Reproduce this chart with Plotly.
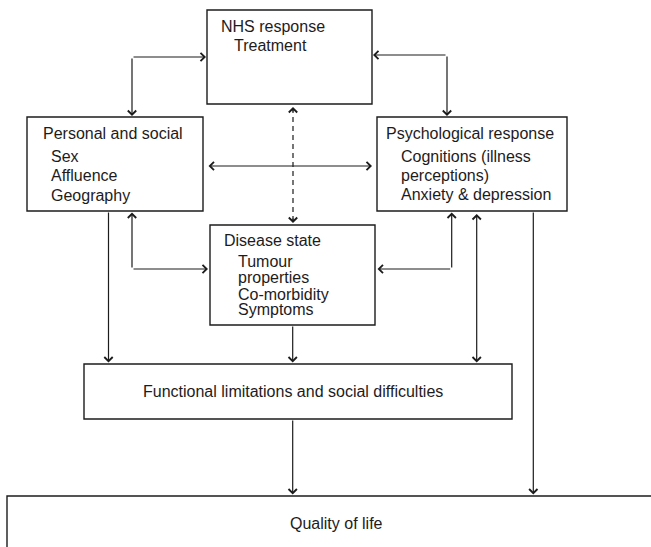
import plotly.graph_objects as go

# ---- Diagram content (text) ----
nhs_title = "NHS response"
nhs_items = ["Treatment"]
personal_title = "Personal and social"
personal_items = ["Sex", "Affluence", "Geography"]
psych_title = "Psychological response"
psych_items = ["Cognitions (illness", "perceptions)", "Anxiety & depression"]
disease_title = "Disease state"
disease_items = ["Tumour", "properties", "Co-morbidity", "Symptoms"]
functional_label = "Functional limitations and social difficulties"
qol_label = "Quality of life"

# ---- Layout geometry (pixel coordinate system of the canvas) ----
W, H = 651, 547
boxes = {
    "nhs": (207, 10, 372, 104),
    "personal": (27, 117, 203, 211),
    "psych": (377, 117, 567, 211),
    "disease": (210, 225, 375, 325),
    "functional": (84, 364, 512, 419),
    "qol": (7, 496, 670, 570),
}
# title pos (x, y), items x, items ys
text_layout = {
    "nhs": ((220, 26), 233, [45]),
    "personal": ((42, 133), 50, [156, 175.5, 195]),
    "psych": ((385, 133), 400, [156, 175.5, 194]),
    "disease": ((222.5, 240), 237, [261.5, 277.7, 294, 309.5]),
}

INK = "#1c1c1c"
FONT = dict(family="Liberation Sans, Arial, Helvetica, sans-serif", size=16, color="#1e1b1c")
LW = 1.2
HEAD = 1.35

fig = go.Figure()

shapes = []
for key, (x0, y0, x1, y1) in boxes.items():
    shapes.append(dict(type="rect", xref="x", yref="y", x0=x0, y0=y0, x1=x1, y1=y1,
                       line=dict(color=INK, width=1.4), fillcolor="rgba(0,0,0,0)", layer="above"))
# dashed NHS <-> disease line
shapes.append(dict(type="line", xref="x", yref="y", x0=293, y0=108, x1=293, y1=222,
                   line=dict(color=INK, width=LW, dash="5px,4px")))

annotations = []


def arrow(tail, tip, both=False):
    annotations.append(dict(
        x=tip[0], y=tip[1], ax=tail[0], ay=tail[1], xref="x", yref="y", axref="x", ayref="y",
        text="", showarrow=True, arrowhead=4, arrowsize=HEAD, arrowwidth=LW, arrowcolor=INK,
        arrowside="end+start" if both else "end", startarrowhead=4, startarrowsize=HEAD,
    ))


# NHS <-> Personal (corner at 132,57)
arrow((132, 57), (206, 57))
arrow((132, 57), (132, 116))
# NHS <-> Psych (corner at 447,55)
arrow((447, 55), (373, 55))
arrow((447, 55), (447, 116))
# Personal <-> Psych
arrow((207, 166), (372, 166), both=True)
# dashed arrowheads
arrow((293, 113), (293, 107))
arrow((293, 217), (293, 223))
# Personal <-> Disease (corner at 132,269)
arrow((132, 269), (132, 212.5))
arrow((132, 269), (208, 269))
# Psych <-> Disease (corner at 451.7,269)
arrow((451.7, 269), (451.7, 212.5))
arrow((451.7, 269), (377.5, 269))
# Psych <-> Functional
arrow((476.7, 212.5), (476.7, 362.5), both=True)
# Personal -> Functional
arrow((108.5, 211), (108.5, 362.5))
# Disease -> Functional
arrow((292.7, 325), (292.7, 362.5))
# Functional -> QoL
arrow((292.7, 419), (292.7, 494.5))
# Psych -> QoL
arrow((533.3, 211), (533.3, 494.5))


def label(x, y, text, anchor="left"):
    annotations.append(dict(x=x, y=y, xref="x", yref="y", text=text, showarrow=False,
                            xanchor=anchor, yanchor="middle", font=FONT, borderpad=0))


groups = {
    "nhs": (nhs_title, nhs_items),
    "personal": (personal_title, personal_items),
    "psych": (psych_title, psych_items),
    "disease": (disease_title, disease_items),
}
for key, (title, items) in groups.items():
    (tx, ty), ix, iys = text_layout[key]
    label(tx, ty, title)
    for it, iy in zip(items, iys):
        label(ix, iy, it)

label(292.5, 391, functional_label, anchor="center")
label(336, 523, qol_label, anchor="center")

fig.update_layout(
    width=W, height=H, margin=dict(l=0, r=0, t=0, b=0),
    paper_bgcolor="white", plot_bgcolor="white",
    xaxis=dict(range=[0, W], visible=False, fixedrange=True),
    yaxis=dict(range=[H, 0], visible=False, fixedrange=True),
    shapes=shapes, annotations=annotations, showlegend=False,
)

fig.write_html(
    "out.html",
    config={"displayModeBar": False},
    post_script="document.body.style.margin='0';document.body.style.overflow='hidden';",
)
